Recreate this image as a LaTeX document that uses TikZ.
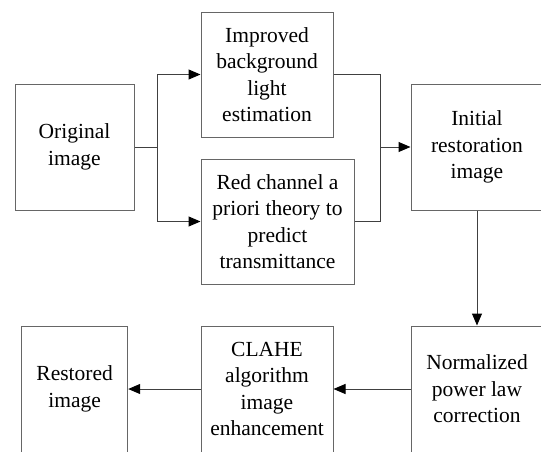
\documentclass[tikz,border=0pt]{standalone}
\usepackage{fontspec}
\setmainfont{Liberation Serif}
\newfontfamily\tnr{Liberation Serif}
\usetikzlibrary{arrows.meta}
\begin{document}
\begin{tikzpicture}[x=1pt,y=-1pt,
  box/.style={draw=black!60,line width=1pt,rectangle,inner sep=0pt,align=center,
    font=\tnr\fontsize{21.5}{26.5}\selectfont,minimum height=126pt},
  conn/.style={draw=black!75,line width=1pt},
  arr/.style={conn,-{Triangle[length=12pt,width=10pt,color=black]}}]
\useasboundingbox (0,0) rectangle (541,451);
\clip (0,0) rectangle (541,451);
\fill[white] (0,0) rectangle (541,451);
\node[box,minimum width=119pt] (orig) at (74.5,147) {Original\\image};
\node[box,minimum width=132pt,minimum height=125pt] (imp) at (267,74.5) {Improved\\background\\light\\estimation};
\node[box,minimum width=153pt,minimum height=125pt] (red) at (277.5,221.5) {Red channel a\\priori theory to\\predict\\transmittance};
\node[box,minimum width=132pt] (init) at (477,147) {Initial\\restoration\\image};
\node[box,minimum width=132pt] (norm) at (477,389) {Normalized\\power law\\correction};
\node[box,minimum width=132pt] (clahe) at (267,389) {CLAHE\\algorithm\\image\\enhancement};
\node[box,minimum width=106pt] (rest) at (74.7,389) {Restored\\image};
\coordinate (j1) at (157,147);
\coordinate (j2) at (380,147);
\draw[conn] (orig.east) -- (j1);
\draw[arr] (j1) |- (imp.west);
\draw[arr] (j1) |- (red.west);
\draw[conn] (imp.east) -| (j2);
\draw[conn] (red.east) -| (j2);
\draw[arr] (j2) -- (init.west);
\draw[arr] (init.south) -- (norm.north);
\draw[arr] (norm.west) -- (clahe.east);
\draw[arr] (clahe.west) -- (rest.east);
\end{tikzpicture}
\end{document}
